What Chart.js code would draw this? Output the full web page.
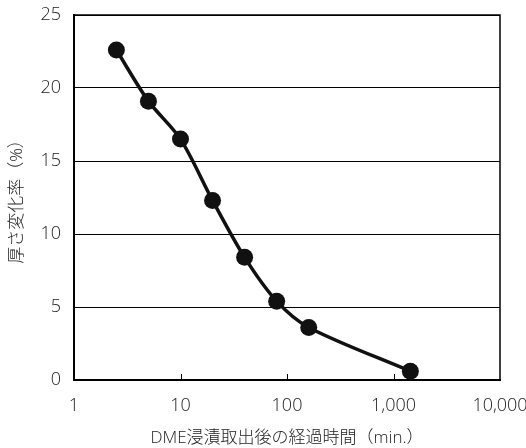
<!DOCTYPE html>
<html>
<head>
<meta charset="utf-8">
<script src="https://cdn.jsdelivr.net/npm/chart.js@4/dist/chart.umd.min.js"></script>
<style>
  html, body { margin: 0; padding: 0; background: #fff; }
  #wrap { width: 526px; height: 448px; }
</style>
</head>
<body>
<div id="wrap"><canvas id="chart" width="526" height="448"></canvas></div>
<script>
const minutes = [2.5, 5, 10, 20, 40, 80, 160, 1440];
const thicknessChange = [22.6, 19.1, 16.5, 12.3, 8.4, 5.4, 3.6, 0.6];
const xTicks = [1, 10, 100, 1000, 10000];
const yTicks = [0, 5, 10, 15, 20, 25];

const fontFamily = "'Open Sans', 'Noto Sans CJK JP', sans-serif";
const textColor = "#222";

// inward tick marks on the x axis and the right/top edges of the frame
const frame = {
  id: "frame",
  afterDraw(chart) {
    const ctx = chart.ctx;
    const x = chart.scales.x;
    const area = chart.chartArea;
    ctx.save();
    ctx.strokeStyle = "#000";
    ctx.lineWidth = 1;
    xTicks.slice(1, -1).forEach(v => {
      const px = Math.round(x.getPixelForValue(v)) + 0.5;
      ctx.beginPath();
      ctx.moveTo(px, area.bottom);
      ctx.lineTo(px, area.bottom - 6);
      ctx.stroke();
    });
    ctx.lineWidth = 1.5;
    ctx.beginPath();
    ctx.moveTo(area.left, area.top);
    ctx.lineTo(area.right, area.top);
    ctx.lineTo(area.right, area.bottom);
    ctx.stroke();
    ctx.restore();
  }
};

const ctx = document.getElementById("chart").getContext("2d");
new Chart(ctx, {
  type: "line",
  data: {
    labels: minutes,
    datasets: [{
      data: minutes.map((m, i) => ({ x: m, y: thicknessChange[i] })),
      borderColor: "#111",
      backgroundColor: "#111",
      borderWidth: 3.5,
      pointRadius: 8.5,
      pointBorderWidth: 0,
      pointBackgroundColor: "#111",
      tension: 0.3
    }]
  },
  options: {
    responsive: false,
    animation: false,
    layout: { padding: { top: 15, right: 26, left: 0, bottom: 0 } },
    plugins: {
      legend: { display: false },
      tooltip: { enabled: false }
    },
    scales: {
      x: {
        type: "logarithmic",
        min: 1,
        max: 10000,
        afterBuildTicks: scale => {
          scale.ticks = xTicks.map(v => ({ value: v }));
        },
        afterFit: scale => {
          scale.height = 68;
          scale.paddingLeft = 0;
          scale.paddingRight = 0;
        },
        grid: { display: false, drawTicks: false },
        border: { display: true, color: "#000", width: 2 },
        ticks: {
          color: textColor,
          padding: 15,
          maxRotation: 0,
          autoSkip: false,
          font: { family: fontFamily, size: 18, weight: "300" },
          callback: v => Number(v).toLocaleString("en-US")
        },
        title: {
          display: true,
          text: "DME浸漬取出後の経過時間（min.）",
          color: textColor,
          padding: { top: 2, bottom: 0 },
          font: { family: fontFamily, size: 17, weight: "300" }
        }
      },
      y: {
        min: 0,
        max: 25,
        afterBuildTicks: scale => {
          scale.ticks = yTicks.map(v => ({ value: v }));
        },
        afterFit: scale => {
          scale.width = 74;
          scale.paddingTop = 0;
          scale.paddingBottom = 0;
        },
        grid: {
          color: "#000",
          lineWidth: 1,
          drawTicks: false
        },
        border: { display: true, color: "#000", width: 2 },
        ticks: {
          color: textColor,
          padding: 13,
          font: { family: fontFamily, size: 18, weight: "300" }
        },
        title: {
          display: true,
          text: "厚さ変化率（%）",
          color: textColor,
          padding: { top: 7, bottom: 4 },
          font: { family: fontFamily, size: 17, weight: "300" }
        }
      }
    }
  },
  plugins: [frame]
});
</script>
</body>
</html>
